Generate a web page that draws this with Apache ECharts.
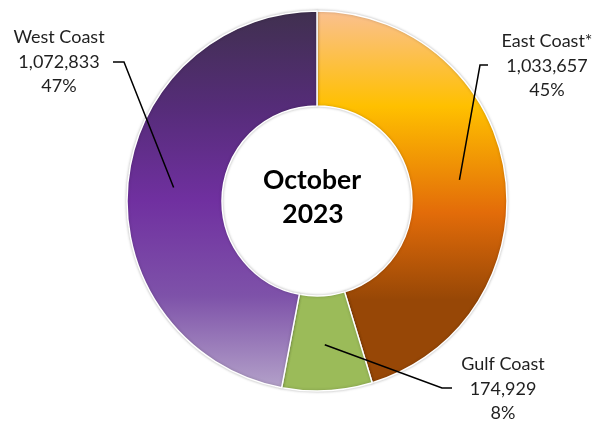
<!DOCTYPE html>
<html>
<head>
<meta charset="utf-8">
<script src="https://cdn.jsdelivr.net/npm/echarts@6/dist/echarts.min.js"></script>
<style>html,body{margin:0;padding:0;background:#fff;}#c{width:597px;height:426px;}</style>
</head>
<body>
<div id="c"></div>
<script>
const categories = ['East Coast*', 'Gulf Coast', 'West Coast'];
const values = [1033657, 174929, 1072833];
const centerLines = ['October', '2023'];

const CX = 317, CY = 201, R0 = 95, R1 = 190;
const total = values.reduce((a, b) => a + b, 0);

// label anchor positions and leader-line elbows (layout only)
const labelPos = [
  { x: 547, y: 66, elbow: [[480, 65], [488, 65]] },
  { x: 503, y: 389, elbow: [[442, 388], [452, 388]] },
  { x: 59, y: 62, elbow: [[124, 62], [113, 62]] }
];

function midPoint(i) {
  let before = 0;
  for (let k = 0; k < i; k++) before += values[k];
  const frac = (before + values[i] / 2) / total;
  const a = frac * 2 * Math.PI;
  const r = 144;
  return [CX + r * Math.sin(a), CY - r * Math.cos(a)];
}

const grad = (stops) => ({
  type: 'linear', global: true, x: 0, y: CY - R1, x2: 0, y2: CY + R1,
  colorStops: stops
});

const colors = [
  grad([
    { offset: 0, color: '#FAC090' },
    { offset: 0.25, color: '#FFC000' },
    { offset: 0.53, color: '#E36C09' },
    { offset: 0.76, color: '#974706' },
    { offset: 1, color: '#974706' }
  ]),
  '#9BBB59',
  grad([
    { offset: 0, color: '#40304F' },
    { offset: 0.25, color: '#552C78' },
    { offset: 0.5, color: '#7030A0' },
    { offset: 0.75, color: '#7E52A9' },
    { offset: 1, color: '#B5A4CA' }
  ])
];

const leaderLines = categories.map((c, i) => ({
  type: 'polyline',
  z: 100,
  silent: true,
  shape: { points: [midPoint(i), labelPos[i].elbow[0], labelPos[i].elbow[1]] },
  style: { stroke: '#000000', lineWidth: 1.5, fill: null }
}));

const chart = echarts.init(document.getElementById('c'), null, { renderer: 'canvas' });
chart.setOption({
  animation: false,
  series: [{
    type: 'pie',
    center: [CX, CY],
    radius: [R0, R1],
    startAngle: 90,
    clockwise: true,
    percentPrecision: 0,
    avoidLabelOverlap: false,
    data: categories.map((c, i) => ({
      name: c, value: values[i],
      itemStyle: { color: colors[i] }
    })),
    itemStyle: {
      borderColor: '#ffffff', borderWidth: 1.5,
      shadowColor: 'rgba(0,0,0,0.25)', shadowBlur: 3
    },
    emphasis: { disabled: true },
    label: {
      show: true,
      position: 'outside',
      formatter: (p) => p.name + '\n' + p.value.toLocaleString('en-US') + '\n' + p.percent + '%',
      fontFamily: 'Lato',
      fontSize: 18,
      lineHeight: 24.5,
      color: '#1f1f1f',
      align: 'center',
      overflow: 'none',
      width: 140
    },
    labelLine: { show: false },
    labelLayout: (params) => {
      const lp = labelPos[params.dataIndex];
      return { x: lp.x, y: lp.y, align: 'center', verticalAlign: 'middle' };
    }
  }],
  graphic: [
    {
      type: 'text', x: 312, y: 180,
      style: { text: centerLines[0], font: 'bold 26.5px Lato', fill: '#000', textAlign: 'center', textVerticalAlign: 'middle' }
    },
    {
      type: 'text', x: 313, y: 214,
      style: { text: centerLines[1], font: 'bold 26.5px Lato', fill: '#000', textAlign: 'center', textVerticalAlign: 'middle' }
    }
  ].concat(leaderLines)
});
</script>
</body>
</html>
